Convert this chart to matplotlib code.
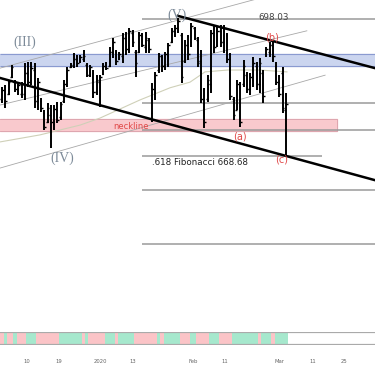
import matplotlib
matplotlib.use("Agg")
import matplotlib.pyplot as plt
import numpy as np

# OHLC bars (price units)
highs = [683.5, 683.9, 685.0, 688.2, 685.0, 684.3, 684.5, 688.6, 688.8, 688.8,
         688.6, 685.4, 681.1, 678.5, 680.0, 679.6, 679.6, 680.3, 680.3, 685.0,
         687.7, 688.6, 690.7, 690.3, 690.3, 691.4, 688.6, 688.2, 687.1, 686.0,
         686.0, 688.6, 688.8, 692.0, 694.0, 691.4, 691.0, 695.0, 695.2, 696.1,
         695.7, 691.4, 695.2, 695.0, 695.2, 694.0, 684.3, 686.7, 690.7, 690.3,
         691.0, 692.9, 696.1, 696.7, 698.2, 695.0, 693.5, 694.6, 697.2, 696.3,
         694.2, 691.4, 683.3, 686.0, 695.7, 696.7, 696.3, 696.7, 696.7, 695.0,
         690.7, 681.3, 685.0, 684.5, 689.3, 686.7, 686.5, 689.9, 688.8, 689.7,
         687.1, 692.0, 693.1, 693.5, 688.8, 686.0, 687.7, 682.2]
lows = [680.0, 679.0, 681.8, 685.4, 682.4, 681.8, 681.1, 680.7, 683.5, 683.9,
        679.0, 678.5, 678.1, 674.3, 675.8, 670.4, 674.3, 675.8, 676.4, 680.0,
        683.5, 687.5, 687.5, 687.7, 688.6, 688.8, 685.6, 685.6, 681.1, 681.8,
        679.2, 686.0, 687.1, 687.7, 689.7, 688.2, 689.3, 688.6, 690.3, 690.7,
        692.0, 685.6, 690.7, 692.0, 690.7, 690.7, 676.0, 680.7, 686.5, 686.7,
        687.1, 687.7, 692.9, 694.2, 695.0, 684.3, 688.6, 689.3, 692.0, 693.5,
        687.7, 680.0, 674.7, 680.3, 682.2, 690.7, 692.0, 692.0, 690.7, 688.6,
        680.7, 676.4, 678.5, 674.9, 683.5, 682.2, 681.8, 683.5, 682.8, 682.2,
        680.0, 689.9, 689.9, 688.8, 683.9, 681.3, 677.9, 668.5]
opens = [681.0, 682.8, 682.0, 685.6, 684.5, 683.0, 682.0, 682.0, 686.5, 685.0,
         687.0, 680.5, 680.5, 678.0, 676.0, 677.5, 675.5, 678.5, 677.0, 680.5,
         684.0, 687.8, 688.0, 689.5, 689.0, 689.5, 688.2, 686.0, 686.5, 682.5,
         684.5, 686.2, 688.0, 688.0, 691.0, 691.0, 689.5, 690.0, 694.0, 691.5,
         695.0, 691.0, 691.0, 694.5, 692.0, 693.5, 678.0, 682.5, 687.0, 690.0,
         688.0, 690.0, 693.0, 695.5, 696.0, 694.5, 689.0, 692.5, 693.0, 696.0,
         693.5, 689.0, 681.0, 681.0, 684.0, 694.5, 692.5, 695.5, 693.0, 694.5,
         689.5, 681.0, 678.5, 683.5, 684.0, 686.0, 683.0, 685.0, 688.0, 684.0,
         686.5, 690.5, 691.0, 692.5, 688.0, 684.5, 686.5, 678.5]
closes = [682.8, 680.5, 684.5, 687.8, 683.0, 683.8, 684.0, 686.5, 684.5, 687.5,
          680.5, 684.5, 679.0, 675.0, 679.0, 676.0, 678.8, 676.5, 679.8, 684.0,
          687.2, 688.2, 689.5, 688.5, 689.8, 690.0, 686.0, 687.8, 682.5, 685.0,
          685.5, 688.0, 687.5, 691.0, 693.0, 689.0, 690.5, 694.0, 691.5, 695.5,
          693.0, 688.5, 694.5, 692.5, 694.0, 691.5, 683.0, 686.0, 690.0, 688.0,
          690.5, 692.5, 695.5, 696.0, 697.5, 685.5, 692.5, 690.5, 696.5, 694.0,
          688.5, 681.0, 676.0, 685.0, 695.0, 692.0, 695.5, 693.0, 696.0, 689.5,
          681.5, 677.5, 684.0, 676.0, 688.0, 683.0, 685.5, 688.5, 684.0, 688.5,
          681.5, 691.5, 692.5, 690.0, 684.5, 682.0, 679.0, 679.8]

# bottom indicator state per bar: p = pink, g = green
signal = ("pgppgpppggg" "ppppppp" "ggggggg" "pg" "ppppp" "ggg" "p" "ggggg"
          "ppppppp" "gp" "ggggg" "ppp" "gg" "pppp" "ggg" "pppp" "gggggggg"
          "p" "ggg" "p" "gggg")

# moving average (bar index, price)
ma_x = [-0.6, 11.6, 23.9, 30.0, 42.3, 51.5, 57.6, 62.2, 69.2, 79.0, 87.3]
ma_y = [671.7, 673.2, 675.3, 676.8, 680.7, 683.3, 684.5, 686.7, 687.1, 687.1, 686.7]

# horizontal levels: (price, start idx, end idx)
levels = [(698.03, 42.9, 114.3), (680.0, 42.9, 114.3), (674.2, 42.9, 114.3),
          (668.68, 42.9, 98.0), (661.4, 42.9, 114.3), (649.9, 42.9, 114.3)]

# thin channel lines (x0, y0, x1, y1)
channels = [(-0.6, 687.5, 79.0, 702.5), (-0.6, 679.6, 93.4, 695.5),
            (-0.6, 666.1, 99.0, 686.0)]
# thick trend lines
trends = [(53.9, 698.7, 114.3, 687.5), (-0.6, 685.4, 114.3, 663.5)]

tick_pos = [7.66, 17.46, 30.02, 40.13, 58.52, 68.32, 85.17, 95.28, 104.78]
tick_lab = ["10", "19", "2020", "13", "Feb", "11", "Mar", "11", "25"]

XMIN, XMAX = -0.61, 114.28

fig = plt.figure(figsize=(3.75, 3.66), dpi=100)
ax = fig.add_axes([0, 14 / 366, 1, 352 / 366])
ax.set_xlim(XMIN, XMAX)
ax.set_ylim(626.7, 702.1)
for s in ax.spines.values():
    s.set_visible(False)
ax.set_yticks([])

# zones
ax.fill_between([XMIN, XMAX], 688.0, 690.5, color="#cbd5ef", zorder=0)
ax.hlines([688.0, 690.5], XMIN, XMAX, color="#8a9ad0", lw=0.8, zorder=1)
ax.fill_between([XMIN, 102.6], 674.0, 676.6, color="#f9c9cd", zorder=0)
ax.plot([XMIN, 102.6, 102.6, XMIN], [676.6, 676.6, 674.0, 674.0],
        color="#d9a0aa", lw=0.6, zorder=1)

for p, x0, x1 in levels:
    ax.hlines(p, x0, x1, color="#9a9a9a", lw=1.1, zorder=1)

for x0, y0, x1, y1 in channels:
    ax.plot([x0, x1], [y0, y1], color="#a8a8a8", lw=0.6, zorder=1)
ax.plot(ma_x, ma_y, color="#cfd0b8", lw=0.8, zorder=1)

for x0, y0, x1, y1 in trends:
    ax.plot([x0, x1], [y0, y1], color="black", lw=1.8, zorder=3)

idx = np.arange(len(highs))
ax.vlines(idx, lows, highs, color="black", lw=1.4, zorder=2)
ax.hlines(opens, idx - 0.5, idx, color="black", lw=1.0, zorder=2)
ax.hlines(closes, idx, idx + 0.5, color="black", lw=1.0, zorder=2)

wave = "#7d8b99"
for x, y, t in [(7.0, 693.1, "(III)"), (18.4, 668.3, "(IV)"), (53.6, 698.9, "(V)")]:
    ax.text(x, y, t, color=wave, fontsize=10, ha="center", va="center",
            family="Liberation Serif")
red = "#e04848"
ax.text(82.7, 694.0, "(b)", color=red, fontsize=7, ha="center", va="center")
ax.text(72.9, 672.8, "(a)", color=red, fontsize=7, ha="center", va="center")
ax.text(85.8, 668.0, "(c)", color=red, fontsize=7, ha="center", va="center")
ax.text(39.5, 675.1, "neckline", color=red, fontsize=6, ha="center", va="center")
ax.text(46.0, 667.2, ".618 Fibonacci 668.68", color="#222222", fontsize=6.3,
        ha="left", va="center")
ax.text(83.3, 698.4, "698.03", color="#444444", fontsize=6.3, ha="center",
        va="center")

ax.set_xticks(tick_pos)
ax.set_xticklabels(tick_lab, fontsize=3.8, color="#666666")
ax.tick_params(axis="x", length=0, pad=5)

# indicator band
bx = fig.add_axes([0, 21 / 366, 1, 13 / 366])
bx.set_xlim(XMIN, XMAX)
bx.set_ylim(0, 1)
bx.axis("off")
cols = ["#fbc4c7" if c == "p" else "#a6e8cd" for c in signal]
bx.bar(idx, 1, width=1.02, bottom=0, color=cols, lw=0)
bx.axhline(0.0, color="#aaaaaa", lw=1.6)
bx.axhline(1.0, color="#aaaaaa", lw=1.6)

fig.savefig("out.png", dpi=100)
